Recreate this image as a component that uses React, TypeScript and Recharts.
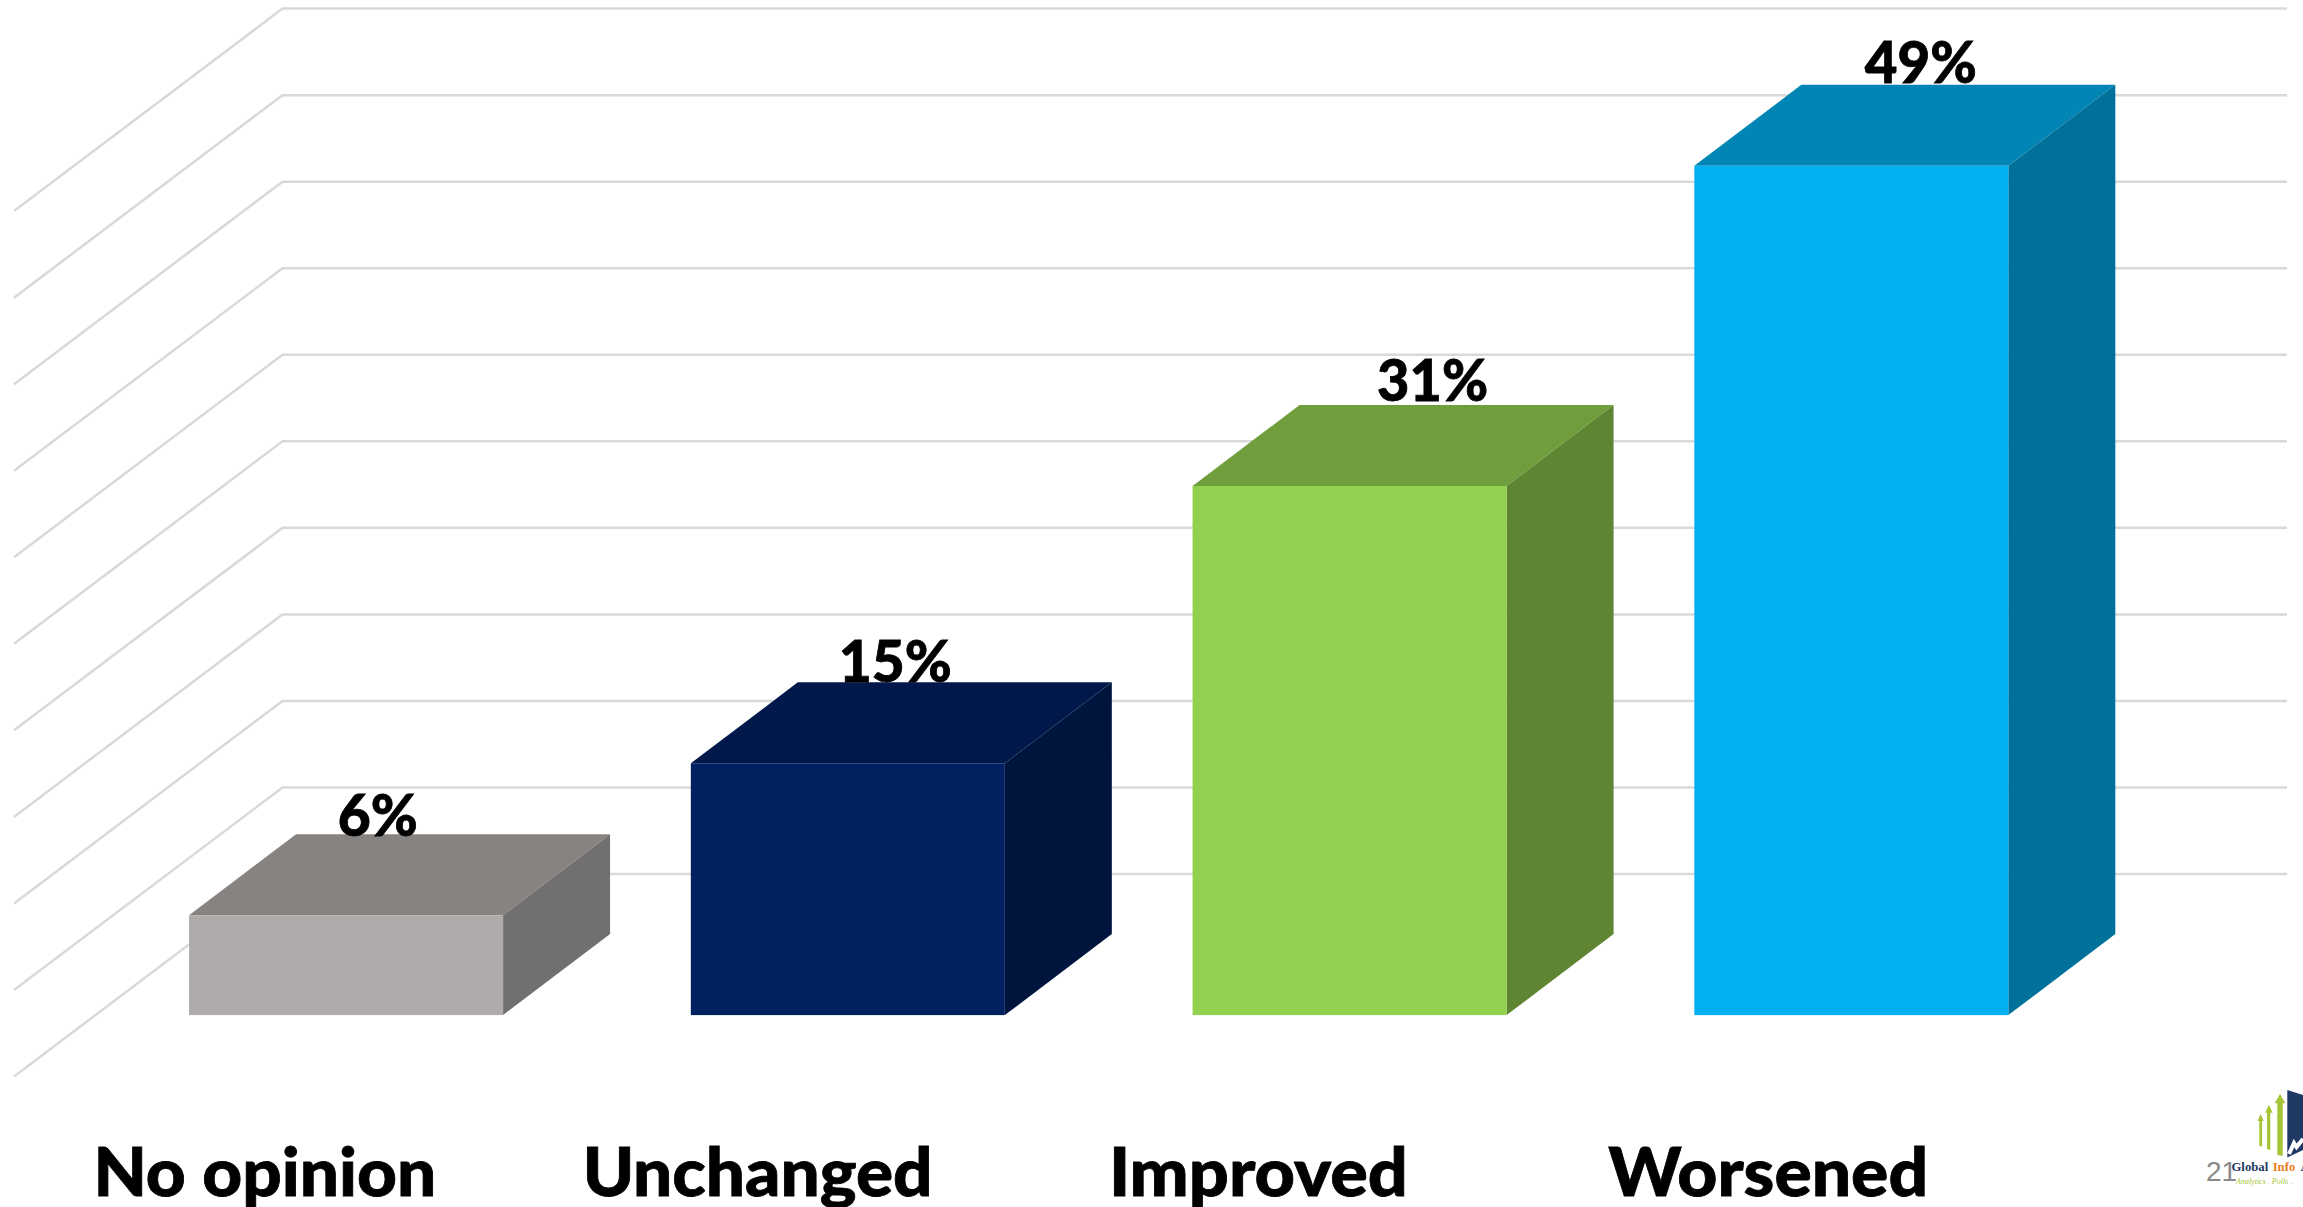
import React from "react";
import { BarChart, Bar, XAxis, YAxis, CartesianGrid } from "recharts";

const categories = ["No opinion", "Unchanged", "Improved", "Worsened"];
const values = [5.77, 14.55, 30.57, 49.07];
const yTicks = [0, 5, 10, 15, 20, 25, 30, 35, 40, 45, 50];
const frontColors = ["#AFABAB", "#002060", "#92D050", "#00B0F0"];
const topColors = ["#878381", "#00184A", "#709E3D", "#0085B5"];
const sideColors = ["#716F6F", "#00153E", "#5F8532", "#00719B"];

const data = categories.map((name, i) => ({ name, value: values[i] }));

// layout constants
const W = 2303;
const H = 1207;
const DEPTH_X = 107;
const DEPTH_Y = 81;
const WALL_SHIFT = 141.1;
const FLOOR_DX = 268.5;
const FLOOR_DY = 202.5;
const WALL_LEFT = 282.5;
const WALL_RIGHT = 2287;
const labelDx = [31.7, 47.5, 83, 69.5];
const labelDy = [2, 0, -4, -2];
const labelWidth = [80, 113, 111, 112];
const tickDx = [-81, -90, -91, -83];
const tickWidth = [343, 350, 299, 320];
const FONT = "Lato, 'Noto Sans', sans-serif";

const Box3D = (p: any) => {
  const { x, y, width, height, index } = p;
  const r = x + width;
  const b = y + height;
  return (
    <g>
      <polygon
        points={`${x},${y} ${x + DEPTH_X},${y - DEPTH_Y} ${r + DEPTH_X},${y - DEPTH_Y} ${r},${y}`}
        fill={topColors[index]}
      />
      <polygon
        points={`${r},${y} ${r + DEPTH_X},${y - DEPTH_Y} ${r + DEPTH_X},${b - DEPTH_Y} ${r},${b}`}
        fill={sideColors[index]}
      />
      <rect x={x} y={y} width={width} height={height} fill={frontColors[index]} />
    </g>
  );
};

const GridLine = (p: any) => {
  const y = p.y1 - WALL_SHIFT;
  return (
    <path
      key={p.key ?? p.index}
      d={`M${WALL_LEFT - FLOOR_DX},${y + FLOOR_DY} L${WALL_LEFT},${y} L${WALL_RIGHT},${y}`}
      fill="none"
      stroke="#D9D9D9"
      strokeWidth={2.5}
    />
  );
};

const ValueLabel = (p: any) => {
  const { x, y, width, value, index } = p;
  return (
    <text
      key={index}
      x={x + width / 2 + labelDx[index]}
      y={y - DEPTH_Y + labelDy[index]}
      textAnchor="middle"
      textLength={labelWidth[index]}
      lengthAdjust="spacingAndGlyphs"
      fontFamily={FONT}
      fontWeight={900}
      fontSize={58}
      fill="#000000"
      stroke="#000000"
      strokeWidth={0.8}
    >
      {`${Math.round(value)}%`}
    </text>
  );
};

const CategoryTick = (p: any) => {
  const { x, payload, index } = p;
  return (
    <text
      x={x + tickDx[index]}
      y={1195.5}
      textAnchor="middle"
      textLength={tickWidth[index]}
      lengthAdjust="spacingAndGlyphs"
      fontFamily={FONT}
      fontWeight={900}
      fontSize={66}
      fill="#000000"
      stroke="#000000"
      strokeWidth={0.8}
    >
      {payload.value}
    </text>
  );
};

const Arrow = ({ tipX, tipY, headY, headL, headR, shaftL, shaftR, bottom }: any) => (
  <polygon
    fill="#A5C536"
    points={`${tipX},${tipY} ${headR},${headY} ${shaftR},${headY} ${shaftR},${bottom} ${shaftL},${bottom - 1} ${shaftL},${headY} ${headL},${headY}`}
  />
);

const Logo = () => (
  <g>
    <text x={2206} y={1181} fontFamily="'Liberation Sans', sans-serif" fontSize={28} fill="#898989">
      21
    </text>
    <Arrow tipX={2260.7} tipY={1114} headY={1121} headL={2257.7} headR={2263.7} shaftL={2259.3} shaftR={2262} bottom={1146.7} />
    <Arrow tipX={2268.7} tipY={1104.7} headY={1112.7} headL={2265.3} headR={2272.7} shaftL={2267} shaftR={2270.3} bottom={1150} />
    <Arrow tipX={2280} tipY={1094} headY={1103.3} headL={2274.7} headR={2285.3} shaftL={2277.3} shaftR={2282.7} bottom={1156} />
    <polygon points="2287.3,1090 2303,1095 2303,1150 2287.3,1157.5" fill="#1F3864" />
    <polyline
      points="2289,1154 2294,1143 2296.5,1147 2303,1139"
      fill="none"
      stroke="#FFFFFF"
      strokeWidth={4}
    />
    <text x={2231.5} y={1171} fontFamily="'Liberation Serif', serif" fontWeight={700} fontSize={12.7} fill="#1F3864">
      Global
    </text>
    <text x={2272.7} y={1171} fontFamily="'Liberation Serif', serif" fontWeight={700} fontSize={12.7} fill="#ED7D1A">
      Info
    </text>
    <text x={2300.5} y={1171} fontFamily="'Liberation Serif', serif" fontWeight={700} fontSize={12.7} fill="#1F3864">
      A
    </text>
    <text x={2236} y={1184} fontFamily="'Liberation Serif', serif" fontStyle="italic" fontSize={8} fill="#A5C536">
      Analytics . Polls .
    </text>
  </g>
);

export default function App() {
  return (
    <div style={{ width: W, height: H, background: "#FFFFFF", overflow: "hidden" }}>
      <style>{"html,body{margin:0;padding:0;background:#fff;overflow:hidden}"}</style>
      <BarChart
        width={W}
        height={H}
        data={data}
        margin={{ top: 149.7, right: 201, bottom: 0, left: 95 }}
        barCategoryGap="18.75%"
      >
        <CartesianGrid horizontal={GridLine} vertical={false} />
        <XAxis
          dataKey="name"
          height={191.9}
          interval={0}
          axisLine={false}
          tickLine={false}
          tick={CategoryTick}
        />
        <YAxis hide domain={[0, 50]} ticks={yTicks} width={0} />
        <Bar dataKey="value" isAnimationActive={false} shape={Box3D} label={ValueLabel} />
        <Logo />
      </BarChart>
    </div>
  );
}
